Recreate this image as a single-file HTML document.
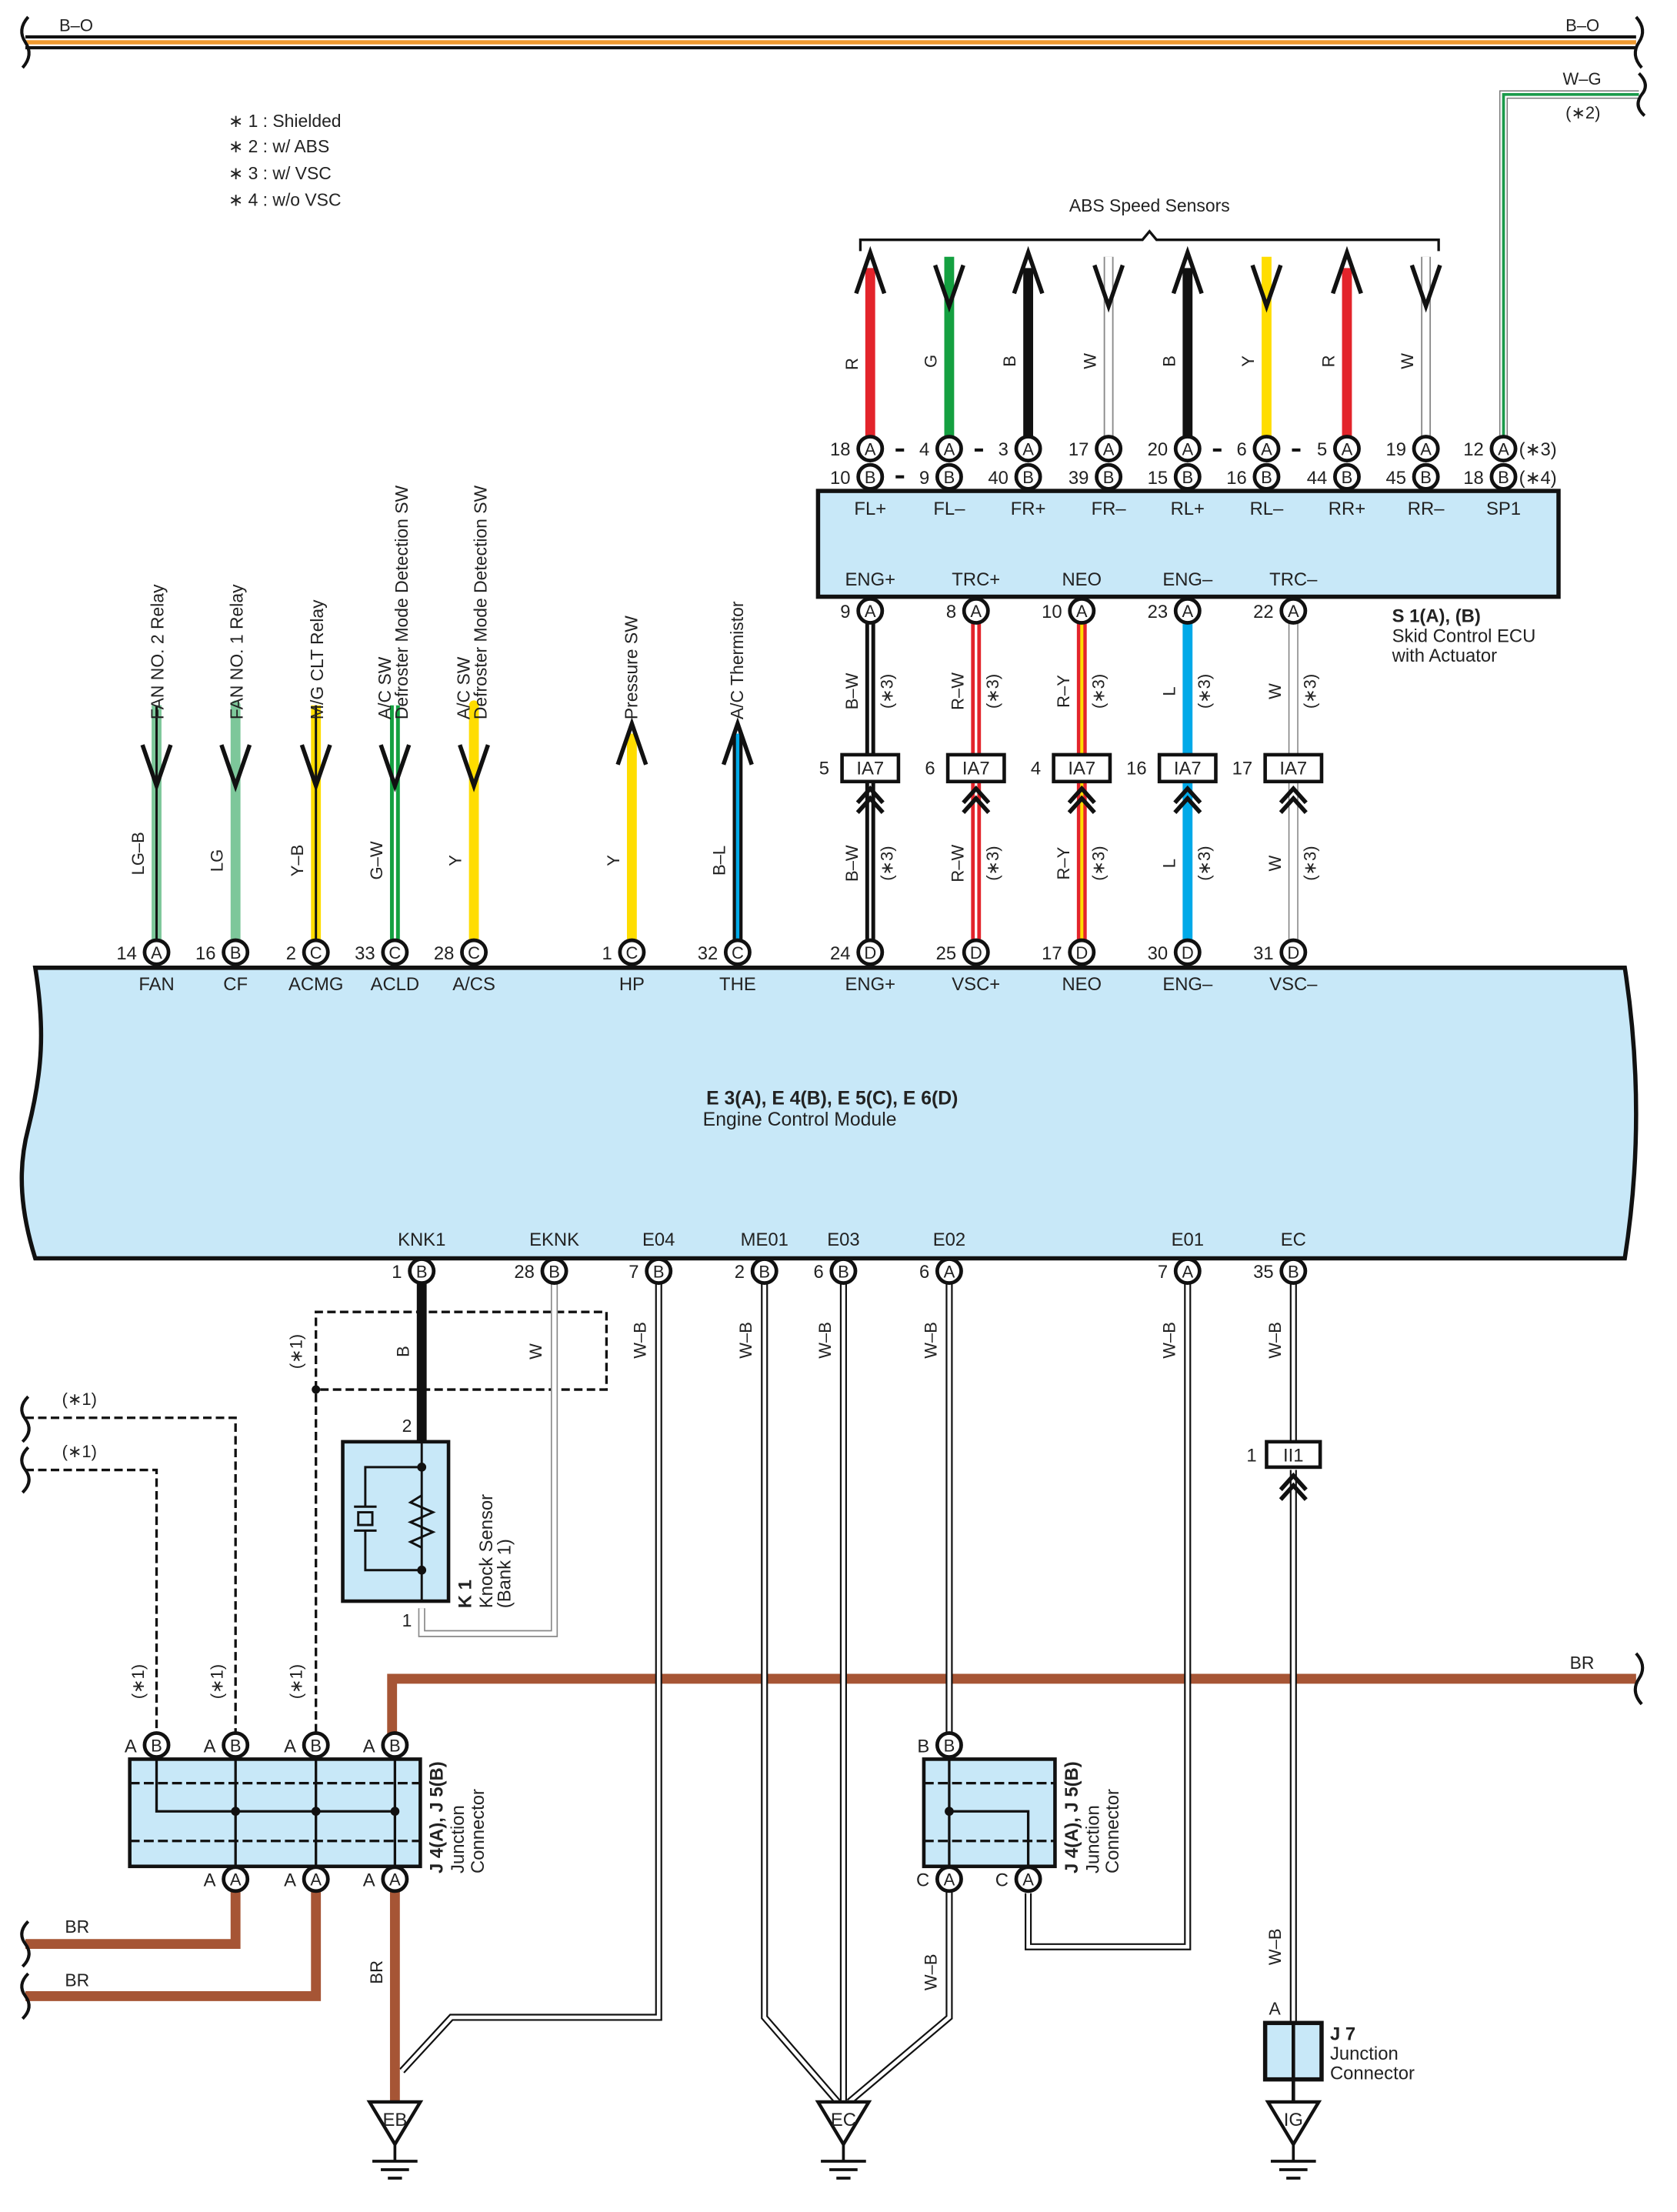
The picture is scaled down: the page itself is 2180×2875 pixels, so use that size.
<!DOCTYPE html>
<html><head><meta charset="utf-8"><style>
html,body{margin:0;padding:0;background:#fff;}
svg{display:block;}
text{font-family:"Liberation Sans",Arial,sans-serif;fill:#222;}
</style></head><body>
<svg width="2180" height="2875" viewBox="0 0 1189 1568" preserveAspectRatio="none" xmlns="http://www.w3.org/2000/svg">
<defs>
<g id="pinA"><circle r="8.5" fill="#fff" stroke="#111" stroke-width="2.6"/><text y="4.5" text-anchor="middle" font-size="12">A</text></g>
<g id="pinB"><circle r="8.5" fill="#fff" stroke="#111" stroke-width="2.6"/><text y="4.5" text-anchor="middle" font-size="12">B</text></g>
<g id="pinC"><circle r="8.5" fill="#fff" stroke="#111" stroke-width="2.6"/><text y="4.5" text-anchor="middle" font-size="12">C</text></g>
<g id="pinD"><circle r="8.5" fill="#fff" stroke="#111" stroke-width="2.6"/><text y="4.5" text-anchor="middle" font-size="12">D</text></g>
<path id="vdown" d="M-10,-12 L0,17 L10,-12" fill="none" stroke="#111" stroke-width="3"/>
<path id="vup" d="M-10,12 L0,-17 L10,12" fill="none" stroke="#111" stroke-width="3"/>
<path id="chev" d="M-9,6 L0,-4 L9,6 M-9,13 L0,3 L9,13" fill="none" stroke="#111" stroke-width="3"/>
<g id="gnd"><path d="M-18,0 L18,0 L0,30 Z" fill="#fff" stroke="#111" stroke-width="2.4"/><line x1="0" y1="30" x2="0" y2="42" stroke="#111" stroke-width="2"/><line x1="-16" y1="42" x2="16" y2="42" stroke="#111" stroke-width="2"/><line x1="-10" y1="48" x2="10" y2="48" stroke="#111" stroke-width="2"/><line x1="-5" y1="54" x2="5" y2="54" stroke="#111" stroke-width="2"/></g>
</defs>

<!-- top bus -->
<line x1="18" y1="30" x2="1160" y2="30" stroke="#111" stroke-width="10"/>
<line x1="18" y1="30" x2="1160" y2="30" stroke="#fff" stroke-width="5.5"/>
<line x1="18" y1="30" x2="1160" y2="30" stroke="#f09a30" stroke-width="3"/>
<path d="M20,12 q-8,9 -2,18 q6,9 -2,18" fill="none" stroke="#111" stroke-width="2.2"/>
<path d="M1160,12 q8,9 2,18 q-6,9 2,18" fill="none" stroke="#111" stroke-width="2.2"/>
<text x="42" y="22" font-size="12">B–O</text>
<text x="1110" y="22" font-size="12">B–O</text>
<!-- W-G -->
<path d="M1162,67 L1066,67 L1066,310" fill="none" stroke="#777" stroke-width="6"/>
<path d="M1162,67 L1066,67 L1066,310" fill="none" stroke="#fff" stroke-width="4.4"/>
<path d="M1162,67 L1066,67 L1066,310" fill="none" stroke="#1a9a4a" stroke-width="2"/>
<path d="M1162,52 q8,8 2,15 q-6,8 2,15" fill="none" stroke="#111" stroke-width="2.2"/>
<text x="1108" y="60" font-size="12">W–G</text>
<text x="1110" y="84" font-size="12">(∗2)</text>

<!-- legend -->
<text x="162" y="90" font-size="12.5">∗ 1 : Shielded</text>
<text x="162" y="108" font-size="12.5">∗ 2 : w/ ABS</text>
<text x="162" y="127" font-size="12.5">∗ 3 : w/ VSC</text>
<text x="162" y="146" font-size="12.5">∗ 4 : w/o VSC</text>

<!-- ABS -->
<text x="815" y="150" font-size="12.5" text-anchor="middle">ABS Speed Sensors</text>
<path d="M610,178 L610,170 L810,170 L815,164 L820,170 L1020,170 L1020,178" fill="none" stroke="#111" stroke-width="1.8"/>
<line x1="617" y1="190" x2="617" y2="310" stroke="#e3242b" stroke-width="7"/><use href="#vup" x="617" y="196"/>
<line x1="673" y1="182" x2="673" y2="310" stroke="#14a040" stroke-width="7"/><use href="#vdown" x="673" y="200"/>
<line x1="729" y1="190" x2="729" y2="310" stroke="#111" stroke-width="7"/><use href="#vup" x="729" y="196"/>
<line x1="786" y1="182" x2="786" y2="310" stroke="#888" stroke-width="7"/><line x1="786" y1="182" x2="786" y2="310" stroke="#fff" stroke-width="5"/><use href="#vdown" x="786" y="200"/>
<line x1="842" y1="190" x2="842" y2="310" stroke="#111" stroke-width="7"/><use href="#vup" x="842" y="196"/>
<line x1="898" y1="182" x2="898" y2="310" stroke="#ffdd00" stroke-width="7"/><use href="#vdown" x="898" y="200"/>
<line x1="955" y1="190" x2="955" y2="310" stroke="#e3242b" stroke-width="7"/><use href="#vup" x="955" y="196"/>
<line x1="1011" y1="182" x2="1011" y2="310" stroke="#888" stroke-width="7"/><line x1="1011" y1="182" x2="1011" y2="310" stroke="#fff" stroke-width="5"/><use href="#vdown" x="1011" y="200"/>
<g font-size="12">
<text transform="translate(608,258) rotate(-90)" text-anchor="middle">R</text>
<text transform="translate(664,256) rotate(-90)" text-anchor="middle">G</text>
<text transform="translate(720,256) rotate(-90)" text-anchor="middle">B</text>
<text transform="translate(777,256) rotate(-90)" text-anchor="middle">W</text>
<text transform="translate(833,256) rotate(-90)" text-anchor="middle">B</text>
<text transform="translate(889,256) rotate(-90)" text-anchor="middle">Y</text>
<text transform="translate(946,256) rotate(-90)" text-anchor="middle">R</text>
<text transform="translate(1002,256) rotate(-90)" text-anchor="middle">W</text>
</g>
<g font-size="13">
<use href="#pinA" x="617" y="318"/><use href="#pinB" x="617" y="338"/><text x="603" y="323" text-anchor="end">18</text><text x="603" y="343" text-anchor="end">10</text>
<use href="#pinA" x="673" y="318"/><use href="#pinB" x="673" y="338"/><text x="659" y="323" text-anchor="end">4</text><text x="659" y="343" text-anchor="end">9</text>
<use href="#pinA" x="729" y="318"/><use href="#pinB" x="729" y="338"/><text x="715" y="323" text-anchor="end">3</text><text x="715" y="343" text-anchor="end">40</text>
<use href="#pinA" x="786" y="318"/><use href="#pinB" x="786" y="338"/><text x="772" y="323" text-anchor="end">17</text><text x="772" y="343" text-anchor="end">39</text>
<use href="#pinA" x="842" y="318"/><use href="#pinB" x="842" y="338"/><text x="828" y="323" text-anchor="end">20</text><text x="828" y="343" text-anchor="end">15</text>
<use href="#pinA" x="898" y="318"/><use href="#pinB" x="898" y="338"/><text x="884" y="323" text-anchor="end">6</text><text x="884" y="343" text-anchor="end">16</text>
<use href="#pinA" x="955" y="318"/><use href="#pinB" x="955" y="338"/><text x="941" y="323" text-anchor="end">5</text><text x="941" y="343" text-anchor="end">44</text>
<use href="#pinA" x="1011" y="318"/><use href="#pinB" x="1011" y="338"/><text x="997" y="323" text-anchor="end">19</text><text x="997" y="343" text-anchor="end">45</text>
<use href="#pinA" x="1066" y="318"/><use href="#pinB" x="1066" y="338"/><text x="1052" y="323" text-anchor="end">12</text><text x="1052" y="343" text-anchor="end">18</text>
<text x="1077" y="323">(∗3)</text><text x="1077" y="343">(∗4)</text>
</g>
<g stroke="#111" stroke-width="2.2"><line x1="635" y1="319" x2="641" y2="319"/><line x1="691" y1="319" x2="697" y2="319"/><line x1="635" y1="338" x2="641" y2="338"/><line x1="860" y1="319" x2="866" y2="319"/><line x1="916" y1="319" x2="922" y2="319"/></g>
<rect x="580" y="348" width="525" height="75" fill="#c8e8f8" stroke="#111" stroke-width="3"/>
<g font-size="13" text-anchor="middle">
<text x="617" y="365">FL+</text><text x="673" y="365">FL–</text><text x="729" y="365">FR+</text><text x="786" y="365">FR–</text><text x="842" y="365">RL+</text><text x="898" y="365">RL–</text><text x="955" y="365">RR+</text><text x="1011" y="365">RR–</text><text x="1066" y="365">SP1</text>
<text x="617" y="415">ENG+</text><text x="692" y="415">TRC+</text><text x="767" y="415">NEO</text><text x="842" y="415">ENG–</text><text x="917" y="415">TRC–</text>
</g>
<text x="987" y="441" font-size="13" font-weight="bold">S 1(A), (B)</text>
<text x="987" y="455" font-size="13">Skid Control ECU</text>
<text x="987" y="469" font-size="13">with Actuator</text>

<g>
<line x1="617" y1="440" x2="617" y2="668" stroke="#111" stroke-width="7"/><line x1="617" y1="440" x2="617" y2="668" stroke="#fff" stroke-width="1.6"/>
<line x1="692" y1="440" x2="692" y2="668" stroke="#e3242b" stroke-width="7"/><line x1="692" y1="440" x2="692" y2="668" stroke="#fff" stroke-width="1.8"/>
<line x1="767" y1="440" x2="767" y2="668" stroke="#e3242b" stroke-width="7"/><line x1="767" y1="440" x2="767" y2="668" stroke="#ffdd00" stroke-width="2.2"/>
<line x1="842" y1="440" x2="842" y2="668" stroke="#00a9e8" stroke-width="7"/>
<line x1="917" y1="440" x2="917" y2="668" stroke="#777" stroke-width="7"/><line x1="917" y1="440" x2="917" y2="668" stroke="#fff" stroke-width="5.5"/>
</g>
<g font-size="13">
<use href="#pinA" x="617" y="433"/><text x="603" y="438" text-anchor="end">9</text>
<use href="#pinA" x="692" y="433"/><text x="678" y="438" text-anchor="end">8</text>
<use href="#pinA" x="767" y="433"/><text x="753" y="438" text-anchor="end">10</text>
<use href="#pinA" x="842" y="433"/><text x="828" y="438" text-anchor="end">23</text>
<use href="#pinA" x="917" y="433"/><text x="903" y="438" text-anchor="end">22</text>
</g>
<g font-size="13">
<rect x="597" y="535" width="40" height="19" fill="#fff" stroke="#111" stroke-width="2.5"/><text x="617" y="549" text-anchor="middle">IA7</text><text x="588" y="549" text-anchor="end">5</text>
<rect x="672" y="535" width="40" height="19" fill="#fff" stroke="#111" stroke-width="2.5"/><text x="692" y="549" text-anchor="middle">IA7</text><text x="663" y="549" text-anchor="end">6</text>
<rect x="747" y="535" width="40" height="19" fill="#fff" stroke="#111" stroke-width="2.5"/><text x="767" y="549" text-anchor="middle">IA7</text><text x="738" y="549" text-anchor="end">4</text>
<rect x="822" y="535" width="40" height="19" fill="#fff" stroke="#111" stroke-width="2.5"/><text x="842" y="549" text-anchor="middle">IA7</text><text x="813" y="549" text-anchor="end">16</text>
<rect x="897" y="535" width="40" height="19" fill="#fff" stroke="#111" stroke-width="2.5"/><text x="917" y="549" text-anchor="middle">IA7</text><text x="888" y="549" text-anchor="end">17</text>
</g>
<use href="#chev" x="617" y="563"/><use href="#chev" x="692" y="563"/><use href="#chev" x="767" y="563"/><use href="#chev" x="842" y="563"/><use href="#chev" x="917" y="563"/>
<g font-size="12" text-anchor="middle">
<text transform="translate(608,490) rotate(-90)">B–W</text><text transform="translate(633,490) rotate(-90)">(∗3)</text>
<text transform="translate(683,490) rotate(-90)">R–W</text><text transform="translate(708,490) rotate(-90)">(∗3)</text>
<text transform="translate(758,490) rotate(-90)">R–Y</text><text transform="translate(783,490) rotate(-90)">(∗3)</text>
<text transform="translate(833,490) rotate(-90)">L</text><text transform="translate(858,490) rotate(-90)">(∗3)</text>
<text transform="translate(908,490) rotate(-90)">W</text><text transform="translate(933,490) rotate(-90)">(∗3)</text>
<text transform="translate(608,612) rotate(-90)">B–W</text><text transform="translate(633,612) rotate(-90)">(∗3)</text>
<text transform="translate(683,612) rotate(-90)">R–W</text><text transform="translate(708,612) rotate(-90)">(∗3)</text>
<text transform="translate(758,612) rotate(-90)">R–Y</text><text transform="translate(783,612) rotate(-90)">(∗3)</text>
<text transform="translate(833,612) rotate(-90)">L</text><text transform="translate(858,612) rotate(-90)">(∗3)</text>
<text transform="translate(908,612) rotate(-90)">W</text><text transform="translate(933,612) rotate(-90)">(∗3)</text>
</g>

<!-- left ECM inputs -->
<line x1="111" y1="500" x2="111" y2="668" stroke="#7dc79a" stroke-width="7"/><line x1="111" y1="500" x2="111" y2="668" stroke="#111" stroke-width="1.6"/><use href="#vdown" x="111" y="540"/>
<line x1="167" y1="500" x2="167" y2="668" stroke="#7dc79a" stroke-width="7" stroke-linecap="round"/><use href="#vdown" x="167" y="540"/>
<line x1="224" y1="500" x2="224" y2="668" stroke="#ffdd00" stroke-width="7"/><line x1="224" y1="500" x2="224" y2="668" stroke="#111" stroke-width="1.6"/><use href="#vdown" x="224" y="540"/>
<line x1="280" y1="500" x2="280" y2="668" stroke="#14a040" stroke-width="7"/><line x1="280" y1="500" x2="280" y2="668" stroke="#fff" stroke-width="1.6"/><use href="#vdown" x="280" y="540"/>
<line x1="336" y1="500" x2="336" y2="668" stroke="#ffdd00" stroke-width="7" stroke-linecap="round"/><use href="#vdown" x="336" y="540"/>
<line x1="448" y1="520" x2="448" y2="668" stroke="#ffdd00" stroke-width="7"/><use href="#vup" x="448" y="530"/>
<line x1="523" y1="520" x2="523" y2="668" stroke="#111" stroke-width="7"/><line x1="523" y1="520" x2="523" y2="668" stroke="#00a9e8" stroke-width="2.4"/><use href="#vup" x="523" y="530"/>
<g font-size="12.5">
<text transform="translate(116,510) rotate(-90)">FAN NO. 2 Relay</text>
<text transform="translate(172,510) rotate(-90)">FAN NO. 1 Relay</text>
<text transform="translate(229,510) rotate(-90)">M/G CLT Relay</text>
<text transform="translate(277,510) rotate(-90)">A/C SW</text><text transform="translate(289,510) rotate(-90)">Defroster Mode Detection SW</text>
<text transform="translate(333,510) rotate(-90)">A/C SW</text><text transform="translate(345,510) rotate(-90)">Defroster Mode Detection SW</text>
<text transform="translate(452,510) rotate(-90)">Pressure SW</text>
<text transform="translate(527,510) rotate(-90)">A/C Thermistor</text>
</g>
<g font-size="12" text-anchor="middle">
<text transform="translate(102,605) rotate(-90)">LG–B</text>
<text transform="translate(158,610) rotate(-90)">LG</text>
<text transform="translate(215,610) rotate(-90)">Y–B</text>
<text transform="translate(271,610) rotate(-90)">G–W</text>
<text transform="translate(327,610) rotate(-90)">Y</text>
<text transform="translate(439,610) rotate(-90)">Y</text>
<text transform="translate(514,610) rotate(-90)">B–L</text>
</g>

<!-- ECM box -->
<path d="M25,686 L1152,686 Q1168,790 1152,892 L25,892 C15,860 12,830 20,800 C30,760 32,730 25,686 Z" fill="#c8e8f8" stroke="#111" stroke-width="3"/>
<text x="590" y="783" font-size="13.5" font-weight="bold" text-anchor="middle">E 3(A), E 4(B), E 5(C), E 6(D)</text>
<text x="567" y="798" font-size="13.5" text-anchor="middle">Engine Control Module</text>
<g font-size="13">
<use href="#pinA" x="111" y="675"/><text x="97" y="680" text-anchor="end">14</text>
<use href="#pinB" x="167" y="675"/><text x="153" y="680" text-anchor="end">16</text>
<use href="#pinC" x="224" y="675"/><text x="210" y="680" text-anchor="end">2</text>
<use href="#pinC" x="280" y="675"/><text x="266" y="680" text-anchor="end">33</text>
<use href="#pinC" x="336" y="675"/><text x="322" y="680" text-anchor="end">28</text>
<use href="#pinC" x="448" y="675"/><text x="434" y="680" text-anchor="end">1</text>
<use href="#pinC" x="523" y="675"/><text x="509" y="680" text-anchor="end">32</text>
<use href="#pinD" x="617" y="675"/><text x="603" y="680" text-anchor="end">24</text>
<use href="#pinD" x="692" y="675"/><text x="678" y="680" text-anchor="end">25</text>
<use href="#pinD" x="767" y="675"/><text x="753" y="680" text-anchor="end">17</text>
<use href="#pinD" x="842" y="675"/><text x="828" y="680" text-anchor="end">30</text>
<use href="#pinD" x="917" y="675"/><text x="903" y="680" text-anchor="end">31</text>
</g>
<g font-size="13" text-anchor="middle">
<text x="111" y="702">FAN</text><text x="167" y="702">CF</text><text x="224" y="702">ACMG</text><text x="280" y="702">ACLD</text><text x="336" y="702">A/CS</text><text x="448" y="702">HP</text><text x="523" y="702">THE</text>
<text x="617" y="702">ENG+</text><text x="692" y="702">VSC+</text><text x="767" y="702">NEO</text><text x="842" y="702">ENG–</text><text x="917" y="702">VSC–</text>
<text x="299" y="883">KNK1</text><text x="393" y="883">EKNK</text><text x="467" y="883">E04</text><text x="542" y="883">ME01</text><text x="598" y="883">E03</text><text x="673" y="883">E02</text><text x="842" y="883">E01</text><text x="917" y="883">EC</text>
</g>

<!-- BR bus -->
<path d="M278,1232 L278,1190 L1160,1190" fill="none" stroke="#a65535" stroke-width="7"/>
<path d="M1160,1172 q8,9 2,18 q-6,9 2,18" fill="none" stroke="#111" stroke-width="2.2"/>
<text x="1113" y="1183" font-size="12.5">BR</text>

<!-- shielded dashed -->
<g fill="none" stroke="#111" stroke-width="1.8" stroke-dasharray="6,3">
<path d="M224,1228 L224,930 L430,930 L430,985 L224,985"/>
<path d="M18,1005 L167,1005 L167,1228"/>
<path d="M18,1042 L111,1042 L111,1228"/>
</g>
<circle cx="224" cy="985" r="3" fill="#111"/>
<path d="M20,990 q-8,8 -2,16 q6,8 -2,16" fill="none" stroke="#111" stroke-width="2.2"/>
<path d="M20,1026 q-8,8 -2,16 q6,8 -2,16" fill="none" stroke="#111" stroke-width="2.2"/>
<g font-size="12">
<text x="44" y="996">(∗1)</text><text x="44" y="1033">(∗1)</text>
<text transform="translate(214,958) rotate(-90)" text-anchor="middle">(∗1)</text>
<text transform="translate(102,1192) rotate(-90)" text-anchor="middle">(∗1)</text>
<text transform="translate(158,1192) rotate(-90)" text-anchor="middle">(∗1)</text>
<text transform="translate(214,1192) rotate(-90)" text-anchor="middle">(∗1)</text>
</g>

<!-- knock sensor -->
<line x1="299" y1="910" x2="299" y2="1022" stroke="#111" stroke-width="7"/>
<path d="M393,910 L393,1158 L299,1158 L299,1140" fill="none" stroke="#888" stroke-width="5"/>
<path d="M393,910 L393,1158 L299,1158 L299,1140" fill="none" stroke="#fff" stroke-width="3.2"/>
<rect x="243" y="1022" width="75" height="113" fill="#c8e8f8" stroke="#111" stroke-width="2.5"/>
<g fill="none" stroke="#111" stroke-width="1.6">
<line x1="299" y1="1022" x2="299" y2="1135"/>
<path d="M299,1040 L259,1040 L259,1068 M251,1068 L267,1068 M251,1085 L267,1085 M259,1085 L259,1113 L299,1113"/>
<rect x="254" y="1072" width="10" height="9"/>
<path d="M299,1060 L291,1065 L307,1072 L291,1079 L307,1086 L291,1093 L299,1097"/>
</g>
<circle cx="299" cy="1040" r="3.2" fill="#111"/><circle cx="299" cy="1113" r="3.2" fill="#111"/>
<text x="292" y="1015" font-size="12.5" text-anchor="end">2</text>
<text x="292" y="1153" font-size="12.5" text-anchor="end">1</text>
<text transform="translate(334,1140) rotate(-90)" font-size="13" font-weight="bold">K 1</text>
<text transform="translate(349,1140) rotate(-90)" font-size="13">Knock Sensor</text>
<text transform="translate(362,1140) rotate(-90)" font-size="13">(Bank 1)</text>
<g font-size="12" text-anchor="middle">
<text transform="translate(290,958) rotate(-90)">B</text>
<text transform="translate(384,958) rotate(-90)">W</text>
</g>

<!-- ground wires -->
<g fill="none">
<g stroke="#111" stroke-width="5">
<path d="M467,910 L467,1430 L320,1430 L285,1468"/>
<path d="M542,910 L542,1430 L594,1490"/>
<path d="M598,910 L598,1490"/>
<path d="M673,1340 L673,1430 L602,1490"/>
<path d="M673,910 L673,1232"/>
<path d="M842,910 L842,1380 L729,1380 L729,1342"/>
<path d="M917,910 L917,1022"/>
<path d="M917,1042 L917,1435"/>
</g>
<g stroke="#fff" stroke-width="2.6">
<path d="M467,910 L467,1430 L320,1430 L285,1468"/>
<path d="M542,910 L542,1430 L594,1490"/>
<path d="M598,910 L598,1490"/>
<path d="M673,1340 L673,1430 L602,1490"/>
<path d="M673,910 L673,1232"/>
<path d="M842,910 L842,1380 L729,1380 L729,1342"/>
<path d="M917,910 L917,1022"/>
<path d="M917,1042 L917,1435"/>
</g>
</g>
<g font-size="12" text-anchor="middle">
<text transform="translate(458,950) rotate(-90)">W–B</text>
<text transform="translate(533,950) rotate(-90)">W–B</text>
<text transform="translate(589,950) rotate(-90)">W–B</text>
<text transform="translate(664,950) rotate(-90)">W–B</text>
<text transform="translate(833,950) rotate(-90)">W–B</text>
<text transform="translate(908,950) rotate(-90)">W–B</text>
<text transform="translate(664,1398) rotate(-90)">W–B</text>
<text transform="translate(908,1380) rotate(-90)">W–B</text>
<text transform="translate(271,1398) rotate(-90)">BR</text>
</g>

<g font-size="13">
<use href="#pinB" x="299" y="901"/><text x="285" y="906" text-anchor="end">1</text>
<use href="#pinB" x="393" y="901"/><text x="379" y="906" text-anchor="end">28</text>
<use href="#pinB" x="467" y="901"/><text x="453" y="906" text-anchor="end">7</text>
<use href="#pinB" x="542" y="901"/><text x="528" y="906" text-anchor="end">2</text>
<use href="#pinB" x="598" y="901"/><text x="584" y="906" text-anchor="end">6</text>
<use href="#pinA" x="673" y="901"/><text x="659" y="906" text-anchor="end">6</text>
<use href="#pinA" x="842" y="901"/><text x="828" y="906" text-anchor="end">7</text>
<use href="#pinB" x="917" y="901"/><text x="903" y="906" text-anchor="end">35</text>
</g>

<!-- II1 -->
<rect x="898" y="1022" width="38" height="18" fill="#fff" stroke="#111" stroke-width="2.5"/>
<text x="917" y="1036" font-size="13" text-anchor="middle">II1</text>
<text x="891" y="1036" font-size="13" text-anchor="end">1</text>
<use href="#chev" x="917" y="1050"/>

<!-- BR left wires -->
<path d="M167,1340 L167,1378 L18,1378" fill="none" stroke="#a65535" stroke-width="7"/>
<path d="M224,1340 L224,1415 L18,1415" fill="none" stroke="#a65535" stroke-width="7"/>
<line x1="280" y1="1340" x2="280" y2="1490" stroke="#a65535" stroke-width="7"/>
<path d="M20,1362 q-8,8 -2,16 q6,8 -2,16" fill="none" stroke="#111" stroke-width="2.2"/>
<path d="M20,1399 q-8,8 -2,16 q6,8 -2,16" fill="none" stroke="#111" stroke-width="2.2"/>
<text x="46" y="1370" font-size="12.5">BR</text><text x="46" y="1408" font-size="12.5">BR</text>

<!-- J4/J5 left -->
<rect x="92" y="1247" width="206" height="76" fill="#c8e8f8" stroke="#111" stroke-width="2.5"/>
<g stroke="#111" stroke-width="1.8" fill="none">
<line x1="92" y1="1264" x2="298" y2="1264" stroke-dasharray="7,3"/>
<line x1="92" y1="1305" x2="298" y2="1305" stroke-dasharray="7,3"/>
<path d="M111,1247 L111,1284 L280,1284"/>
<line x1="167" y1="1247" x2="167" y2="1323"/><line x1="224" y1="1247" x2="224" y2="1323"/><line x1="280" y1="1247" x2="280" y2="1323"/>
</g>
<circle cx="167" cy="1284" r="3.2" fill="#111"/><circle cx="224" cy="1284" r="3.2" fill="#111"/><circle cx="280" cy="1284" r="3.2" fill="#111"/>
<g font-size="13">
<use href="#pinB" x="111" y="1237"/><text x="97" y="1242" text-anchor="end">A</text>
<use href="#pinB" x="167" y="1237"/><text x="153" y="1242" text-anchor="end">A</text>
<use href="#pinB" x="224" y="1237"/><text x="210" y="1242" text-anchor="end">A</text>
<use href="#pinB" x="280" y="1237"/><text x="266" y="1242" text-anchor="end">A</text>
<use href="#pinA" x="167" y="1332"/><text x="153" y="1337" text-anchor="end">A</text>
<use href="#pinA" x="224" y="1332"/><text x="210" y="1337" text-anchor="end">A</text>
<use href="#pinA" x="280" y="1332"/><text x="266" y="1337" text-anchor="end">A</text>
</g>
<text transform="translate(314,1328) rotate(-90)" font-size="13" font-weight="bold">J 4(A), J 5(B)</text>
<text transform="translate(329,1328) rotate(-90)" font-size="13">Junction</text>
<text transform="translate(343,1328) rotate(-90)" font-size="13">Connector</text>

<!-- J4/J5 right -->
<rect x="655" y="1247" width="93" height="76" fill="#c8e8f8" stroke="#111" stroke-width="2.5"/>
<g stroke="#111" stroke-width="1.8" fill="none">
<line x1="655" y1="1264" x2="748" y2="1264" stroke-dasharray="7,3"/>
<line x1="655" y1="1305" x2="748" y2="1305" stroke-dasharray="7,3"/>
<line x1="673" y1="1247" x2="673" y2="1323"/>
<path d="M673,1284 L729,1284 L729,1323"/>
</g>
<circle cx="673" cy="1284" r="3.2" fill="#111"/>
<g font-size="13">
<use href="#pinB" x="673" y="1237"/><text x="659" y="1242" text-anchor="end">B</text>
<use href="#pinA" x="673" y="1332"/><text x="659" y="1337" text-anchor="end">C</text>
<use href="#pinA" x="729" y="1332"/><text x="715" y="1337" text-anchor="end">C</text>
</g>
<text transform="translate(764,1328) rotate(-90)" font-size="13" font-weight="bold">J 4(A), J 5(B)</text>
<text transform="translate(779,1328) rotate(-90)" font-size="13">Junction</text>
<text transform="translate(793,1328) rotate(-90)" font-size="13">Connector</text>

<!-- J7 -->
<rect x="897" y="1434" width="40" height="40" fill="#c8e8f8" stroke="#111" stroke-width="3"/>
<line x1="917" y1="1434" x2="917" y2="1490" stroke="#111" stroke-width="2.5"/>
<text x="908" y="1428" font-size="12.5" text-anchor="end">A</text>
<text x="943" y="1446" font-size="13" font-weight="bold">J 7</text>
<text x="943" y="1460" font-size="13">Junction</text>
<text x="943" y="1474" font-size="13">Connector</text>

<!-- grounds -->
<use href="#gnd" x="280" y="1490"/><text x="280" y="1507" font-size="13" text-anchor="middle">EB</text>
<use href="#gnd" x="598" y="1490"/><text x="598" y="1507" font-size="13" text-anchor="middle">EC</text>
<use href="#gnd" x="917" y="1490"/><text x="917" y="1507" font-size="13" text-anchor="middle">IG</text>
</svg>
</body></html>
